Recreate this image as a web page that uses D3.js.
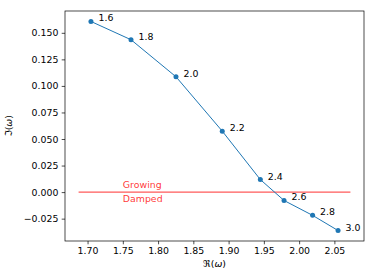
<!DOCTYPE html>
<html lang="en">
<head>
  <meta charset="UTF-8">
  <title>Eigenvalue track</title>
<style>
  body { margin: 0; background: #fff; }
  svg text { font-family: "DejaVu Sans", sans-serif; }
</style>
</head>
<body>

<svg id="chart" width="374" height="280"></svg>

<script src="https://d3js.org/d3.v7.min.js"></script>

<script>

var params = ["1.6", "1.8", "2.0", "2.2", "2.4", "2.6", "2.8", "3.0"],
  reOmega = [1.7048, 1.7616, 1.8254, 1.8910, 1.9450, 1.9786, 2.0191, 2.0552],
  imOmega = [0.1607, 0.1435, 0.1086, 0.0574, 0.0118, -0.0079, -0.0219, -0.0362],
  xTicks = [1.70, 1.75, 1.80, 1.85, 1.90, 1.95, 2.00, 2.05],
  yTicks = [-0.025, 0.000, 0.025, 0.050, 0.075, 0.100, 0.125, 0.150],
  regionLabels = ["Growing", "Damped"];

var svg = d3.select("#chart"),
  margin = {left: 65, right: 10, top: 11, bottom: 39},
  w = 374 - margin.left - margin.right,
  h = 280 - margin.top - margin.bottom,
  fs = 9.4,
  blue = "#1f77b4";

// matplotlib style autoscale: 5% padding, twice on x (red line extends it)
function pad(ext) {
  var d = (ext[1] - ext[0]) * 0.05;
  return [ext[0] - d, ext[1] + d];
}
var lineExt = pad(d3.extent(reOmega)),
  x = d3.scaleLinear().domain(pad(lineExt)).range([0, w]),
  y = d3.scaleLinear().domain(pad(d3.extent(imOmega))).range([h, 0]);

var g = svg.append("g")
  .attr("transform", "translate(" + margin.left + "," + margin.top + ")");

var pts = reOmega.map(function (d, i) {
  return {re: d, im: imOmega[i], label: params[i]};
});

// zero line
g.append("line")
  .attr("x1", x(lineExt[0])).attr("x2", x(lineExt[1]))
  .attr("y1", y(0)).attr("y2", y(0))
  .attr("stroke", "#ff0000").attr("stroke-opacity", 0.65)
  .attr("stroke-width", 1.1);

g.append("text")
  .attr("x", x(1.75)).attr("y", y(0) - 4.6)
  .attr("fill", "#ff0000").attr("fill-opacity", 0.8)
  .style("font-size", fs + "px")
  .text(regionLabels[0]);

g.append("text")
  .attr("x", x(1.75)).attr("y", y(0) + 9.4)
  .attr("fill", "#ff0000").attr("fill-opacity", 0.8)
  .style("font-size", fs + "px")
  .text(regionLabels[1]);

// track
g.append("path")
  .datum(pts)
  .attr("fill", "none")
  .attr("stroke", blue)
  .attr("stroke-width", 1)
  .attr("d", d3.line().x(function (d) { return x(d.re); }).y(function (d) { return y(d.im); }));

g.selectAll("circle.pt")
  .data(pts)
  .enter().append("circle")
  .attr("class", "pt")
  .attr("cx", function (d) { return x(d.re); })
  .attr("cy", function (d) { return y(d.im); })
  .attr("r", 2.5)
  .attr("fill", blue);

g.selectAll("text.lab")
  .data(pts)
  .enter().append("text")
  .attr("class", "lab")
  .attr("x", function (d) { return x(d.re) + 7.5; })
  .attr("y", function (d) { return y(d.im); })
  .style("font-size", fs + "px")
  .attr("fill", "#000")
  .text(function (d) { return d.label; });

// axes
var xAxis = d3.axisBottom(x).tickValues(xTicks).tickFormat(d3.format(".2f"))
  .tickSize(3.3).tickPadding(3.3);
var yAxis = d3.axisLeft(y).tickValues(yTicks)
  .tickFormat(function (d) { return d3.format(".3f")(d).replace("-", "\u2212"); })
  .tickSize(3.3).tickPadding(3.3);

var gx = g.append("g").attr("transform", "translate(0," + h + ")").call(xAxis);
var gy = g.append("g").call(yAxis);

[gx, gy].forEach(function (a) {
  a.select(".domain").remove();
  a.selectAll("line").attr("stroke", "#000").attr("stroke-width", 0.7);
  a.selectAll("text").style("font-size", fs + "px").attr("fill", "#000")
    .style("font-family", "DejaVu Sans, sans-serif");
});

// frame
g.append("rect")
  .attr("x", 0).attr("y", 0).attr("width", w).attr("height", h)
  .attr("fill", "none").attr("stroke", "#000").attr("stroke-width", 0.7);

// axis labels
var xl = svg.append("text")
  .attr("x", margin.left + w / 2).attr("y", 267)
  .attr("text-anchor", "middle")
  .style("font-size", fs + "px");
xl.append("tspan").text("\u211C(");
xl.append("tspan").style("font-style", "italic").text("\u03C9");
xl.append("tspan").text(")");

var yl = svg.append("text")
  .attr("transform", "translate(12," + (margin.top + h / 2) + ") rotate(-90)")
  .attr("text-anchor", "middle")
  .style("font-size", fs + "px");
yl.append("tspan").text("\u2111(");
yl.append("tspan").style("font-style", "italic").text("\u03C9");
yl.append("tspan").text(")");

</script>

</body>
</html>
